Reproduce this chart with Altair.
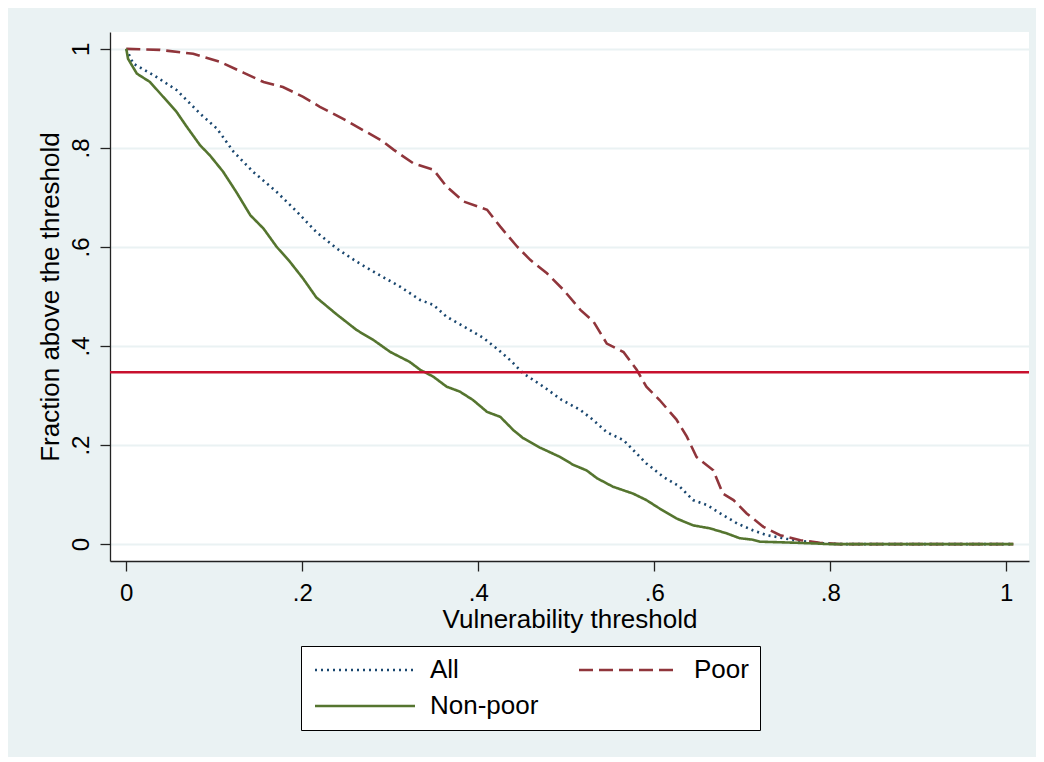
import altair as alt
import pandas as pd

# ---- data ----
series_names = ["All", "Non-poor", "Poor"]   # legend is filled column by column
series_colors = ["#1A476F", "#55752F", "#90353B"]
series_dashes = [[2, 4], [1, 0], [14, 6]]

all_x = [0, 0.008, 0.031, 0.057, 0.084, 0.103, 0.122, 0.144, 0.171, 0.194, 0.216, 0.239,
         0.262, 0.288, 0.311, 0.334, 0.349, 0.364, 0.387, 0.406, 0.421, 0.436, 0.451, 0.474,
         0.495, 0.516, 0.531, 0.546, 0.565, 0.576, 0.591, 0.61, 0.629, 0.644, 0.66, 0.675,
         0.694, 0.712, 0.728, 0.75, 0.773, 0.788, 0.81, 1.008]
all_y = [1, 0.970, 0.947, 0.917, 0.869, 0.839, 0.792, 0.752, 0.711, 0.671, 0.630, 0.597,
         0.570, 0.543, 0.52, 0.493, 0.483, 0.459, 0.436, 0.416, 0.395, 0.372, 0.345, 0.318,
         0.291, 0.271, 0.25, 0.226, 0.21, 0.19, 0.163, 0.136, 0.116, 0.089, 0.079, 0.062,
         0.042, 0.028, 0.018, 0.011, 0.005, 0.002, 0, 0]

poor_x = [0, 0.038, 0.076, 0.106, 0.133, 0.156, 0.178, 0.201, 0.220, 0.247, 0.269, 0.290,
          0.304, 0.326, 0.349, 0.364, 0.383, 0.41, 0.425, 0.444, 0.459, 0.478, 0.497, 0.516,
          0.531, 0.546, 0.565, 0.58, 0.591, 0.606, 0.625, 0.637, 0.648, 0.667, 0.678, 0.69,
          0.705, 0.724, 0.743, 0.766, 0.788, 0.81, 1.008]
poor_y = [1, 0.998, 0.99, 0.974, 0.952, 0.933, 0.923, 0.903, 0.883, 0.858, 0.836, 0.815,
          0.796, 0.769, 0.756, 0.722, 0.692, 0.675, 0.641, 0.601, 0.574, 0.547, 0.513, 0.473,
          0.449, 0.405, 0.388, 0.352, 0.318, 0.291, 0.252, 0.217, 0.176, 0.149, 0.102, 0.089,
          0.062, 0.035, 0.018, 0.008, 0.003, 0, 0]

nonpoor_x = [0, 0.002, 0.012, 0.027, 0.042, 0.057, 0.069, 0.084, 0.095, 0.110, 0.125, 0.141,
             0.156, 0.171, 0.186, 0.201, 0.216, 0.239, 0.262, 0.281, 0.3, 0.311, 0.322, 0.334,
             0.349, 0.364, 0.379, 0.394, 0.41, 0.425, 0.44, 0.451, 0.47, 0.493, 0.508, 0.523,
             0.535, 0.553, 0.576, 0.591, 0.606, 0.625, 0.644, 0.663, 0.682, 0.697, 0.712, 0.72,
             0.758, 0.788, 0.80, 1.008]
nonpoor_y = [1, 0.98, 0.950, 0.933, 0.903, 0.873, 0.842, 0.805, 0.785, 0.752, 0.711, 0.664,
             0.637, 0.600, 0.570, 0.536, 0.498, 0.464, 0.432, 0.412, 0.388, 0.378, 0.368, 0.352,
             0.338, 0.318, 0.308, 0.291, 0.267, 0.257, 0.230, 0.214, 0.195, 0.176, 0.160, 0.149,
             0.133, 0.116, 0.102, 0.089, 0.072, 0.052, 0.038, 0.032, 0.022, 0.012, 0.009, 0.005,
             0.003, 0.001, 0, 0]

threshold_line = [0.347]
x_ticks = [0, 0.2, 0.4, 0.6, 0.8, 1]
y_ticks = [0, 0.2, 0.4, 0.6, 0.8, 1]

rows = []
for name, xs, ys in [("All", all_x, all_y), ("Poor", poor_x, poor_y), ("Non-poor", nonpoor_x, nonpoor_y)]:
    for i, (a, b) in enumerate(zip(xs, ys)):
        rows.append({"series": name, "x": a, "y": b, "order": i})
df = pd.DataFrame(rows)
hline_df = pd.DataFrame({"y": threshold_line})

FONT = "Liberation Sans"
tick_fmt = "datum.value == 0 ? '0' : datum.value == 1 ? '1' : replace(format(datum.value, '.1f'), '0.', '.')"

x_scale = alt.Scale(domain=[-0.0185, 1.0258], nice=False, zero=False)
y_scale = alt.Scale(domain=[-0.034, 1.034], nice=False, zero=False)

legend = alt.Legend(
    title=None, orient="none", legendX=191, legendY=614, columns=2,
    columnPadding=34, rowPadding=10, padding=11,
    strokeColor="black", fillColor="white",
    symbolType="M-1,0H9", symbolSize=400, symbolStrokeWidth=2.6,
    labelFont=FONT, labelFontSize=26, labelColor="black", labelOffset=92,
)

lines = alt.Chart(df).mark_line(strokeWidth=2.6, clip=True).encode(
    x=alt.X("x:Q", scale=x_scale,
            axis=alt.Axis(values=x_ticks, labelExpr=tick_fmt, title="Vulnerability threshold",
                          grid=False, labelPadding=10, titlePadding=1)),
    y=alt.Y("y:Q", scale=y_scale,
            axis=alt.Axis(values=y_ticks, labelExpr=tick_fmt, title="Fraction above the threshold",
                          grid=True, labelAngle=-90, labelAlign="center", labelBaseline="bottom",
                          labelPadding=7, titlePadding=6)),
    color=alt.Color("series:N", scale=alt.Scale(domain=series_names, range=series_colors), legend=legend),
    strokeDash=alt.StrokeDash("series:N",
                              scale=alt.Scale(domain=series_names, range=series_dashes),
                              legend=legend),
    order="order:Q",
)

hline = alt.Chart(hline_df).mark_rule(color="#C8102E", strokeWidth=2.6).encode(
    y=alt.Y("y:Q", scale=y_scale)
)

chart = alt.layer(lines, hline).properties(
    width=919, height=529,
    autosize=alt.AutoSizeParams(type="none"),
    padding={"left": 102, "top": 24, "right": 7, "bottom": 196},
    background="#EAF2F3",
).configure_view(
    fill="white", strokeWidth=0
).configure_axis(
    labelFont=FONT, titleFont=FONT, labelFontSize=24, titleFontSize=26,
    labelColor="black", titleColor="black", titleFontWeight="normal",
    domainColor="#222222", domainWidth=1.3, tickColor="#222222", tickWidth=1.3, tickSize=10,
    gridColor="#EAF2F3", gridWidth=2,
)

chart.save("out.html", embed_options={"renderer": "svg", "actions": False})
